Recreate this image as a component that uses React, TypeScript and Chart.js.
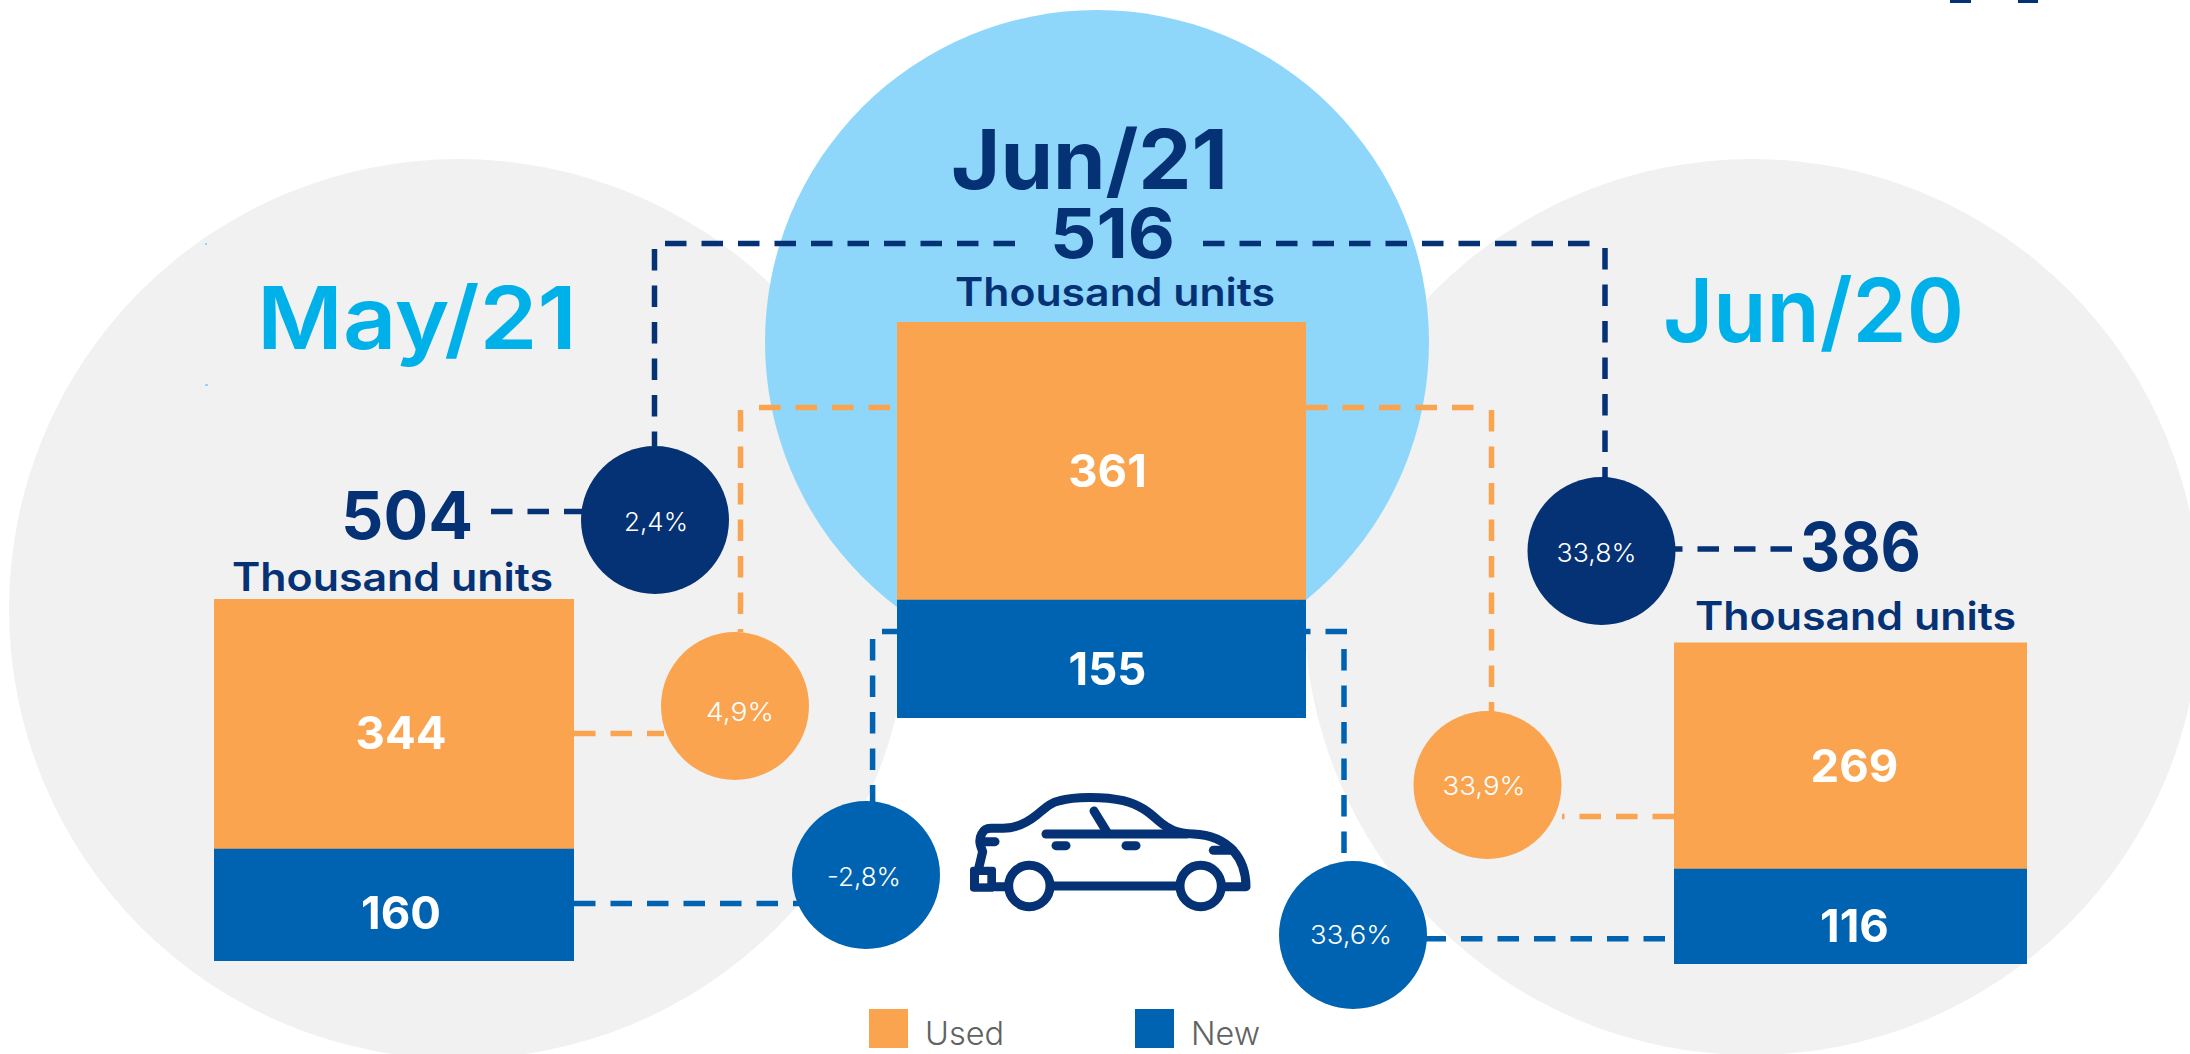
import React, { useEffect, useRef } from "react";
import { Chart, registerables } from "chart.js";

Chart.register(...registerables);

// ---------- data ----------
const categories = ["May/21", "Jun/21", "Jun/20"];
const usedUnits = [344, 361, 269];
const newUnits = [160, 155, 116];
const totalUnits = [504, 516, 386];
const unitLabel = "Thousand units";
const totalChange = ["2,4%", "33,8%"];
const usedChange = ["4,9%", "33,9%"];
const newChange = ["-2,8%", "33,6%"];
const seriesNames = ["Used", "New"];

// ---------- styles ----------
const NAVY = "#053175";
const ORANGE = "#FAA44F";
const BLUE = "#0063B1";
const SKY = "#8FD6FB";
const GREY = "#F1F1F1";
const CYAN = "#00B1E9";
const LEGEND_TEXT = "#5F6363";
const FONT = "Inter, 'Noto Sans', sans-serif";
const DASH = "21.5 15";

// ---------- layout of the three bar panels ----------
const panels = [
  { left: 214, top: 599, width: 360, height: 362, dx: 7, dy: 11, dyNew: 8, floor: 6 },
  { left: 897, top: 322, width: 409, height: 396, dx: 6, dy: 12, dyNew: 11, floor: 2 },
  { left: 1674, top: 642, width: 353, height: 322, dx: 4, dy: 12, dyNew: 10.5, floor: 3 },
];

const valueLabels = {
  id: "valueLabels",
  afterDatasetsDraw(chart: any, _args: any, opts: any) {
    const { ctx } = chart;
    ctx.save();
    ctx.fillStyle = "#FFFFFF";
    ctx.font = `700 45.5px ${FONT}`;
    ctx.textAlign = "center";
    ctx.textBaseline = "middle";
    chart.data.datasets.forEach((ds: any, i: number) => {
      const bar = chart.getDatasetMeta(i).data[0];
      const dy = i === 0 ? opts.dyNew : opts.dy;
      ctx.fillText(String(ds.data[0]), bar.x + opts.dx, (bar.y + bar.base) / 2 + dy);
    });
    ctx.restore();
  },
};

function Txt(p: { x: number; y: number; s: number; w: number; c: string; len?: number; anchor?: string; t: string }) {
  return (
    <text
      x={p.x}
      y={p.y}
      fontFamily={FONT}
      fontSize={p.s}
      fontWeight={p.w}
      fill={p.c}
      textAnchor={(p.anchor || "start") as any}
      {...(p.len ? { textLength: p.len, lengthAdjust: "spacingAndGlyphs" } : {})}
    >
      {p.t}
    </text>
  );
}

function Dash(p: { d: string; c: string }) {
  return <path d={p.d} fill="none" stroke={p.c} strokeWidth={5.5} strokeDasharray={DASH} />;
}

function Car() {
  return (
    <g transform="translate(840 760) scale(0.33333)" fill="none" stroke={NAVY} strokeWidth={27} strokeLinecap="round" strokeLinejoin="round">
      <path d="M416 325 L428 275 C420 255 415 240 425 222 C432 208 440 205 452 205 L490 205 C530 205 565 185 590 165 C615 145 630 128 660 122 C700 110 790 108 850 122 C900 135 925 155 955 182 C985 208 1010 220 1060 222 C1110 224 1150 240 1180 272 C1205 300 1218 340 1218 380 L1150 380" />
      <path d="M466 380 L496 380" />
      <path d="M640 378 L1012 378" />
      <path d="M618 222 L1040 222" />
      <path d="M762 153 L800 215" />
      <path d="M425 245 L465 245" />
      <path d="M648 257 L678 257" />
      <path d="M858 257 L888 257" />
      <path d="M1120 271 L1178 271" />
      <circle cx={568} cy={378} r={62} />
      <circle cx={1082} cy={378} r={62} />
      <rect x={390} y={320} width={78} height={75} rx={10} fill={NAVY} stroke="none" />
      <rect x={417} y={345} width={25} height={25} fill="#FFFFFF" stroke="none" />
    </g>
  );
}

export default function App() {
  const refs = [useRef<HTMLCanvasElement>(null), useRef<HTMLCanvasElement>(null), useRef<HTMLCanvasElement>(null)];

  useEffect(() => {
    const charts = panels.map((panel, i) =>
      new Chart(refs[i].current as HTMLCanvasElement, {
        type: "bar",
        data: {
          labels: [categories[i]],
          datasets: [
            { label: seriesNames[1], data: [newUnits[i]], backgroundColor: BLUE, barPercentage: 1, categoryPercentage: 1 },
            { label: seriesNames[0], data: [usedUnits[i]], backgroundColor: ORANGE, barPercentage: 1, categoryPercentage: 1 },
          ],
        },
        options: {
          animation: false,
          responsive: false,
          maintainAspectRatio: false,
          layout: { padding: 0 },
          scales: {
            x: { display: false, stacked: true },
            y: { display: false, stacked: true, min: panel.floor, max: totalUnits[i] },
          },
          plugins: {
            legend: { display: false },
            tooltip: { enabled: false },
            valueLabels: { dx: panel.dx, dy: panel.dy, dyNew: panel.dyNew },
          } as any,
        },
        plugins: [valueLabels],
      })
    );
    return () => charts.forEach((c) => c.destroy());
  }, []);

  return (
    <div style={{ position: "absolute", left: 0, top: 0, width: 2190, height: 1054, overflow: "hidden", background: "#FFFFFF" }}>
      <svg width={2190} height={1054} style={{ position: "absolute", left: 0, top: 0 }}>
        {/* backdrop discs */}
        <circle cx={459} cy={609} r={450} fill={GREY} />
        <circle cx={1752} cy={607} r={448} fill={GREY} />
        <circle cx={1097} cy={342} r={332} fill={SKY} />

        {/* small remnants of the source image */}
        <rect x={1950} y={0} width={21} height={3} fill={NAVY} />
        <rect x={2018} y={0} width={20} height={3} fill={NAVY} />
        <rect x={205} y={243} width={2} height={2} fill={SKY} />
        <rect x={205} y={384} width={3} height={2} fill={SKY} />

        {/* connectors */}
        <Dash c={NAVY} d="M654.5 249 V446" />
        <Dash c={NAVY} d="M665 243.5 H1018" />
        <Dash c={NAVY} d="M1203 243.5 H1593" />
        <Dash c={NAVY} d="M1605 248 V478" />
        <Dash c={NAVY} d="M491 511.5 H582" />
        <Dash c={NAVY} d="M1792 549 H1675" />

        <Dash c={ORANGE} d="M740.5 410 V632" />
        <Dash c={ORANGE} d="M759 407.5 H897" />
        <Dash c={ORANGE} d="M1306 407.5 H1476" />
        <Dash c={ORANGE} d="M1491.5 410 V712" />
        <Dash c={ORANGE} d="M574 733.5 H664" />
        <Dash c={ORANGE} d="M1674 816.5 H1562" />

        <Dash c={BLUE} d="M574 903.5 H800" />
        <Dash c={BLUE} d="M872.6 639 V802" />
        <Dash c={BLUE} d="M882 631.5 H900" />
        <Dash c={BLUE} d="M1347 631.5 H1304" />
        <Dash c={BLUE} d="M1344 649 V855" />
        <Dash c={BLUE} d="M1665 938.7 H1426" />

        {/* change bubbles */}
        <circle cx={655} cy={520} r={74} fill={NAVY} />
        <circle cx={1601.5} cy={551} r={74} fill={NAVY} />
        <circle cx={735} cy={706} r={74} fill={ORANGE} />
        <circle cx={1487.5} cy={785} r={74} fill={ORANGE} />
        <circle cx={866} cy={875} r={74} fill={BLUE} />
        <circle cx={1353} cy={935} r={74} fill={BLUE} />

        <Txt t={totalChange[0]} x={656} y={531} s={26} w={300} c="#FFFFFF" anchor="middle" len={64} />
        <Txt t={totalChange[1]} x={1596.5} y={561.5} s={26} w={300} c="#FFFFFF" anchor="middle" len={80} />
        <Txt t={usedChange[0]} x={740} y={721} s={26} w={300} c="#FFFFFF" anchor="middle" len={68} />
        <Txt t={usedChange[1]} x={1484} y={795} s={26} w={300} c="#FFFFFF" anchor="middle" len={83} />
        <Txt t={newChange[0]} x={864} y={885.5} s={26} w={300} c="#FFFFFF" anchor="middle" len={74} />
        <Txt t={newChange[1]} x={1351} y={943.5} s={26} w={300} c="#FFFFFF" anchor="middle" len={82} />

        {/* headings */}
        <Txt t={categories[0]} x={257} y={349} s={87} w={600} c={CYAN} len={320} />
        <Txt t={categories[1]} x={951} y={189} s={82} w={700} c={NAVY} len={277} />
        <Txt t={categories[2]} x={1663} y={342} s={88} w={600} c={CYAN} len={301} />

        {/* totals */}
        <Txt t={String(totalUnits[0])} x={341} y={539} s={66} w={700} c={NAVY} len={132} />
        <Txt t={String(totalUnits[1])} x={1050} y={258} s={69} w={700} c={NAVY} len={125} />
        <Txt t={String(totalUnits[2])} x={1800} y={571} s={67} w={700} c={NAVY} len={121} />

        <Txt t={unitLabel} x={232} y={590.5} s={39} w={600} c={NAVY} len={321} />
        <Txt t={unitLabel} x={955} y={306} s={39} w={600} c={NAVY} len={320} />
        <Txt t={unitLabel} x={1695} y={630} s={39} w={600} c={NAVY} len={321} />

        <Car />

        {/* legend */}
        <rect x={869} y={1009} width={39} height={39} fill={ORANGE} />
        <rect x={1135} y={1009} width={39} height={39} fill={BLUE} />
        <Txt t={seriesNames[0]} x={925} y={1045} s={32} w={300} c={LEGEND_TEXT} len={79} />
        <Txt t={seriesNames[1]} x={1191} y={1045} s={32} w={300} c={LEGEND_TEXT} len={69} />
      </svg>

      {panels.map((p, i) => (
        <canvas
          key={categories[i]}
          ref={refs[i]}
          width={p.width}
          height={p.height}
          style={{ position: "absolute", left: p.left, top: p.top, width: p.width, height: p.height }}
        />
      ))}
    </div>
  );
}
